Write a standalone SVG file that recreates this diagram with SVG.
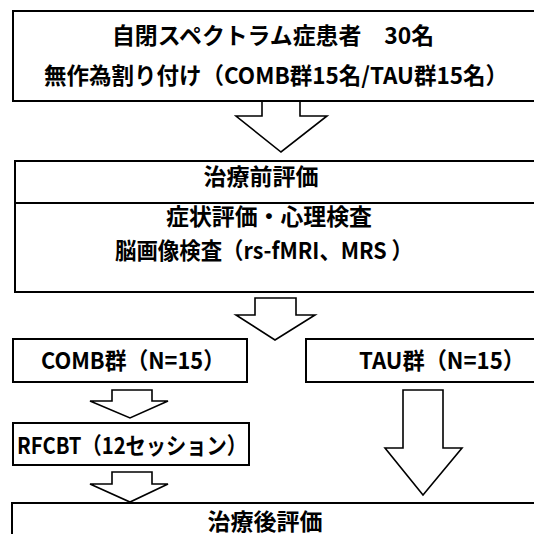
<svg xmlns="http://www.w3.org/2000/svg" width="534" height="534" viewBox="0 0 534 534">
<style>
.box{fill:#fff;stroke:#000;stroke-width:2}
.arr{fill:#fff;stroke:#000;stroke-width:1.6;stroke-linejoin:miter}
text{font-family:"Noto Sans CJK JP","Noto Sans",sans-serif;font-weight:bold;font-size:23px;fill:#000;text-anchor:middle}
</style>
<rect width="534" height="534" fill="#fff"/>
<g id="connectors">
<path class="arr" d="M262,101 V116 H236 L281,152 L327,116 H300 V101"/>
<path class="arr" d="M255,298 V315 H236 L275,340 L315,315 H296 V298 Z"/>
<path class="arr" d="M112,390 V401 H90 L130,418 L168,401 H152 V390 Z"/>
<path class="arr" d="M112,472 V484 H90 L130,502 L168,484 H152 V472 Z"/>
<path class="arr" d="M403,390 V448 H385 L423,495 L462,448 H443 V390 Z"/>
</g>
<g id="n1">
<rect class="box" x="13" y="11" width="540" height="90"/>
<text x="273" y="44" textLength="322" lengthAdjust="spacingAndGlyphs">自閉スペクトラム症患者　30名</text>
<text x="276" y="84" textLength="464" lengthAdjust="spacingAndGlyphs">無作為割り付け（COMB群15名/TAU群15名）</text>
</g>
<g id="n2">
<rect class="box" x="15" y="161" width="540" height="131"/>
<line x1="15" y1="203" x2="534" y2="203" stroke="#000" stroke-width="2"/>
<text x="261" y="185">治療前評価</text>
<text x="269" y="225" textLength="206" lengthAdjust="spacingAndGlyphs">症状評価・心理検査</text>
<text x="264" y="259" textLength="298" lengthAdjust="spacingAndGlyphs">脳画像検査（rs-fMRI、MRS ）</text>
</g>
<g id="n3">
<rect class="box" x="13" y="339" width="234" height="43"/>
<text x="133" y="369" textLength="184" lengthAdjust="spacingAndGlyphs">COMB群（N=15）</text>
</g>
<g id="n4">
<rect class="box" x="306" y="339" width="240" height="43"/>
<text x="442" y="369" textLength="166" lengthAdjust="spacingAndGlyphs">TAU群（N=15）</text>
</g>
<g id="n5">
<rect class="box" x="13" y="423" width="236" height="42"/>
<text x="132" y="454" textLength="230" lengthAdjust="spacingAndGlyphs">RFCBT（12セッション）</text>
</g>
<g id="n6">
<rect class="box" x="12" y="503" width="540" height="60"/>
<text x="265" y="530">治療後評価</text>
</g>
</svg>
